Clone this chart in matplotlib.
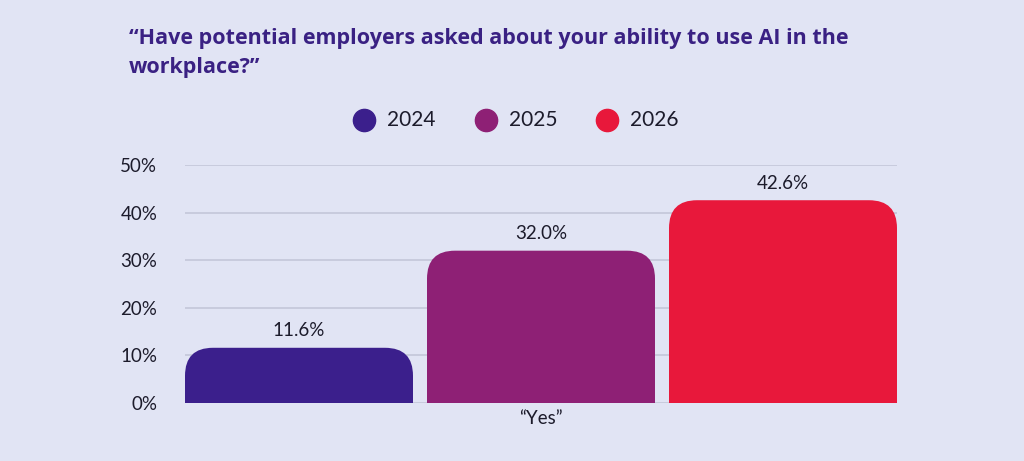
import matplotlib
matplotlib.use("Agg")
import matplotlib.pyplot as plt
from matplotlib.path import Path
from matplotlib.patches import PathPatch

years = ["2024", "2025", "2026"]
values = [11.6, 32.0, 42.6]
category = "\u201cYes\u201d"
yticks = [0, 10, 20, 30, 40, 50]
title = ("\u201cHave potential employers asked about your ability to use AI in the\n"
         "workplace?\u201d")

colors = ["#3b1f8c", "#8e2075", "#e8183b"]
bg = "#e1e4f4"
title_color = "#3a2183"
text_color = "#1c1b2b"
grid_color = "#c4c7d9"

plt.rcParams["font.family"] = ["Lato", "DejaVu Sans"]

fig = plt.figure(figsize=(10.24, 4.61), dpi=100, facecolor=bg)
ax = fig.add_axes([185 / 1024, 58 / 461, 712 / 1024, 238 / 461])
ax.set_facecolor(bg)

bar_w = 228 / 242
xs = [i - 1 for i in range(len(years))]

bars = ax.bar(xs, values, width=bar_w, color=colors, zorder=2)
ax.set_xlim(xs[0] - bar_w / 2, xs[-1] + bar_w / 2)
ax.set_ylim(0, 50)

# swap each plain bar for one with rounded top corners
fig.canvas.draw()
bbox = ax.get_window_extent()
x0, x1 = ax.get_xlim()
y0, y1 = ax.get_ylim()
r_px = 28
rx = r_px * (x1 - x0) / bbox.width
ry = r_px * (y1 - y0) / bbox.height
for b, c in zip(bars, colors):
    left = b.get_x()
    right = left + b.get_width()
    top = b.get_height()
    verts = [
        (left, 0), (left, top - ry), (left, top), (left + rx, top),
        (right - rx, top), (right, top), (right, top - ry),
        (right, 0), (left, 0),
    ]
    codes = [
        Path.MOVETO, Path.LINETO, Path.CURVE3, Path.CURVE3,
        Path.LINETO, Path.CURVE3, Path.CURVE3,
        Path.LINETO, Path.CLOSEPOLY,
    ]
    ax.add_patch(PathPatch(Path(verts, codes), facecolor=c, edgecolor="none", zorder=3))
    b.set_visible(False)
    ax.annotate(f"{top:.1f}%", (b.get_x() + b.get_width() / 2, top),
                xytext=(0, 6), textcoords="offset points",
                ha="center", va="bottom", fontsize=13.5, color=text_color)

ax.set_yticks(yticks)
ax.set_yticklabels([f"{t}%" for t in yticks], fontsize=13.5, color=text_color)
ax.tick_params(axis="y", length=0, pad=20)
ax.set_xticks([xs[1]])
ax.set_xticklabels([category], fontsize=13.5, color=text_color)
ax.tick_params(axis="x", length=0, pad=5)
ax.grid(axis="y", color=grid_color, linewidth=1.2, zorder=1)
for s in ax.spines.values():
    s.set_visible(False)

fig.text(129 / 1024, 1 - 28 / 461, title, ha="left", va="top",
         fontsize=15.5, fontweight="bold", color=title_color, linespacing=1.5,
         family=["Open Sans", "DejaVu Sans"])

# legend: dots with year labels
dot_x = [364, 486, 607]
for dx, yr, c in zip(dot_x, years, colors):
    fig.lines.append(plt.Line2D([dx / 1024], [1 - 120 / 461], marker="o", markersize=16,
                                color=c, linestyle="none", transform=fig.transFigure))
    fig.text((dx + 23) / 1024, 1 - 120 / 461, yr, ha="left", va="center",
             fontsize=15, color=text_color)

fig.savefig("out.png", dpi=100, facecolor=bg)
